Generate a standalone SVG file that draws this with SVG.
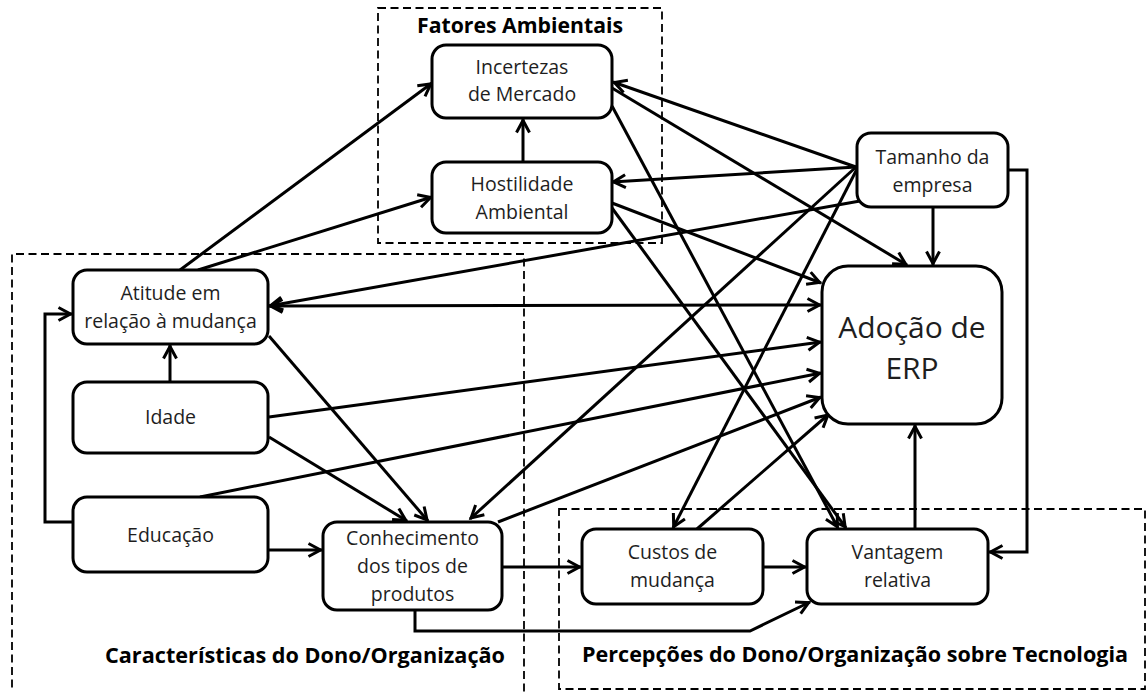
<svg xmlns="http://www.w3.org/2000/svg" width="1147" height="692" viewBox="0 0 1147 692">
  <style>
    .box { fill: #fff; stroke: #000; stroke-width: 3; }
    .grp { fill: none; stroke: #000; stroke-width: 1.8; stroke-dasharray: 8 4.5; }
    .lbl { font-family: "Open Sans", "Noto Sans", "Liberation Sans", sans-serif; font-size: 19.5px; fill: #1e1e1e; text-anchor: middle; }
    .big { font-size: 30px; }
    .ttl { font-family: "Open Sans", "Noto Sans", "Liberation Sans", sans-serif; font-size: 21px; font-weight: bold; fill: #000; }
    .cn path { fill: none; stroke: #000; stroke-width: 3; stroke-linejoin: miter; }
    .cn .a { marker-end: url(#arr); }
    .cn .ab { marker-end: url(#arr); marker-start: url(#arr); }
  </style>
  <defs>
    <marker id="arr" viewBox="-16 -9 20 18" refX="1.5" refY="0" markerWidth="20" markerHeight="18" markerUnits="userSpaceOnUse" orient="auto-start-reverse">
      <path d="M-12,-6.5 L0,0 L-12,6.5" fill="none" stroke="#000" stroke-width="3"/>
    </marker>
  </defs>
  <rect width="1147" height="692" fill="#fff"/>

  <!-- group frames -->
  <g id="groups">
    <rect class="grp" x="378" y="8" width="284" height="235"/>
    <path class="grp" d="M12,700 L12,254 L524,254 L524,700"/>
    <rect class="grp" x="559" y="509" width="586" height="180"/>
    <text class="ttl" x="417" y="33" textLength="206" lengthAdjust="spacingAndGlyphs">Fatores Ambientais</text>
    <text class="ttl" x="105" y="663" textLength="400" lengthAdjust="spacingAndGlyphs">Características do Dono/Organização</text>
    <text class="ttl" x="582" y="662" textLength="546" lengthAdjust="spacingAndGlyphs">Percepções do Dono/Organização sobre Tecnologia</text>
  </g>

  <!-- connectors -->
  <g id="connectors" class="cn">
    <path class="a" d="M523,162 L523,119"/>
    <path class="a" d="M180,270 L432,83"/>
    <path class="a" d="M198,270 L432,197"/>
    <path class="a" d="M856,167 L613,82"/>
    <path class="a" d="M856,167 L612,182"/>
    <path class="a" d="M860,201 L269,306"/>
    <path class="a" d="M856,167 L470,519"/>
    <path class="a" d="M858,167 L673,528"/>
    <path class="a" d="M933,207 L933,265"/>
    <path class="a" d="M1008,170 L1027,170 L1027,552 L989,552"/>
    <path class="a" d="M612,88 L907,265"/>
    <path class="a" d="M612,106 L838,528"/>
    <path class="a" d="M612,203 L821,283"/>
    <path class="a" d="M612,208 L846,528"/>
    <path class="ab" d="M269,306 L821,305"/>
    <path class="a" d="M170,382 L170,345"/>
    <path class="a" d="M269,417 L821,342"/>
    <path class="a" d="M269,437 L407,521"/>
    <path class="a" d="M269,336 L428,521"/>
    <path class="a" d="M73,522 L45,522 L45,314 L72,314"/>
    <path class="a" d="M200,497 L821,373"/>
    <path class="a" d="M268,550 L322,550"/>
    <path class="a" d="M498,522 L821,397"/>
    <path class="a" d="M502,567 L581,567"/>
    <path class="a" d="M415,610 L415,631 L750,631 L810,602"/>
    <path class="a" d="M697,529 L829,414"/>
    <path class="a" d="M763,567 L806,567"/>
    <path class="a" d="M915,529 L915,425"/>
  </g>

  <!-- nodes -->
  <g id="incertezas">
    <rect class="box" x="432" y="45" width="180" height="73" rx="14"/>
    <text class="lbl" x="522" y="73.5">Incertezas</text>
    <text class="lbl" x="522" y="101">de Mercado</text>
  </g>
  <g id="hostilidade">
    <rect class="box" x="432" y="162" width="180" height="71" rx="14"/>
    <text class="lbl" x="522" y="190.5">Hostilidade</text>
    <text class="lbl" x="522" y="218.5">Ambiental</text>
  </g>
  <g id="tamanho">
    <rect class="box" x="857" y="133" width="151" height="74" rx="14"/>
    <text class="lbl" x="932.5" y="163.5">Tamanho da</text>
    <text class="lbl" x="932.5" y="191.5">empresa</text>
  </g>
  <g id="adocao">
    <rect class="box" x="822" y="266" width="180" height="158" rx="26"/>
    <text class="lbl big" x="912" y="338">Adoção de</text>
    <text class="lbl big" x="912" y="379">ERP</text>
  </g>
  <g id="atitude">
    <rect class="box" x="73" y="270" width="195" height="74" rx="14"/>
    <text class="lbl" x="170.5" y="300">Atitude em</text>
    <text class="lbl" x="170.5" y="328">relação à mudança</text>
  </g>
  <g id="idade">
    <rect class="box" x="73" y="382" width="195" height="71" rx="14"/>
    <text class="lbl" x="170.5" y="424">Idade</text>
  </g>
  <g id="educacao">
    <rect class="box" x="73" y="497" width="195" height="75" rx="14"/>
    <text class="lbl" x="170.5" y="542">Educação</text>
  </g>
  <g id="conhecimento">
    <rect class="box" x="323" y="522" width="179" height="88" rx="14"/>
    <text class="lbl" x="412.5" y="545">Conhecimento</text>
    <text class="lbl" x="412.5" y="573">dos tipos de</text>
    <text class="lbl" x="412.5" y="601">produtos</text>
  </g>
  <g id="custos">
    <rect class="box" x="582" y="529" width="181" height="75" rx="14"/>
    <text class="lbl" x="672.5" y="559">Custos de</text>
    <text class="lbl" x="672.5" y="587">mudança</text>
  </g>
  <g id="vantagem">
    <rect class="box" x="807" y="529" width="181" height="75" rx="14"/>
    <text class="lbl" x="897.5" y="559">Vantagem</text>
    <text class="lbl" x="897.5" y="587">relativa</text>
  </g>
</svg>
